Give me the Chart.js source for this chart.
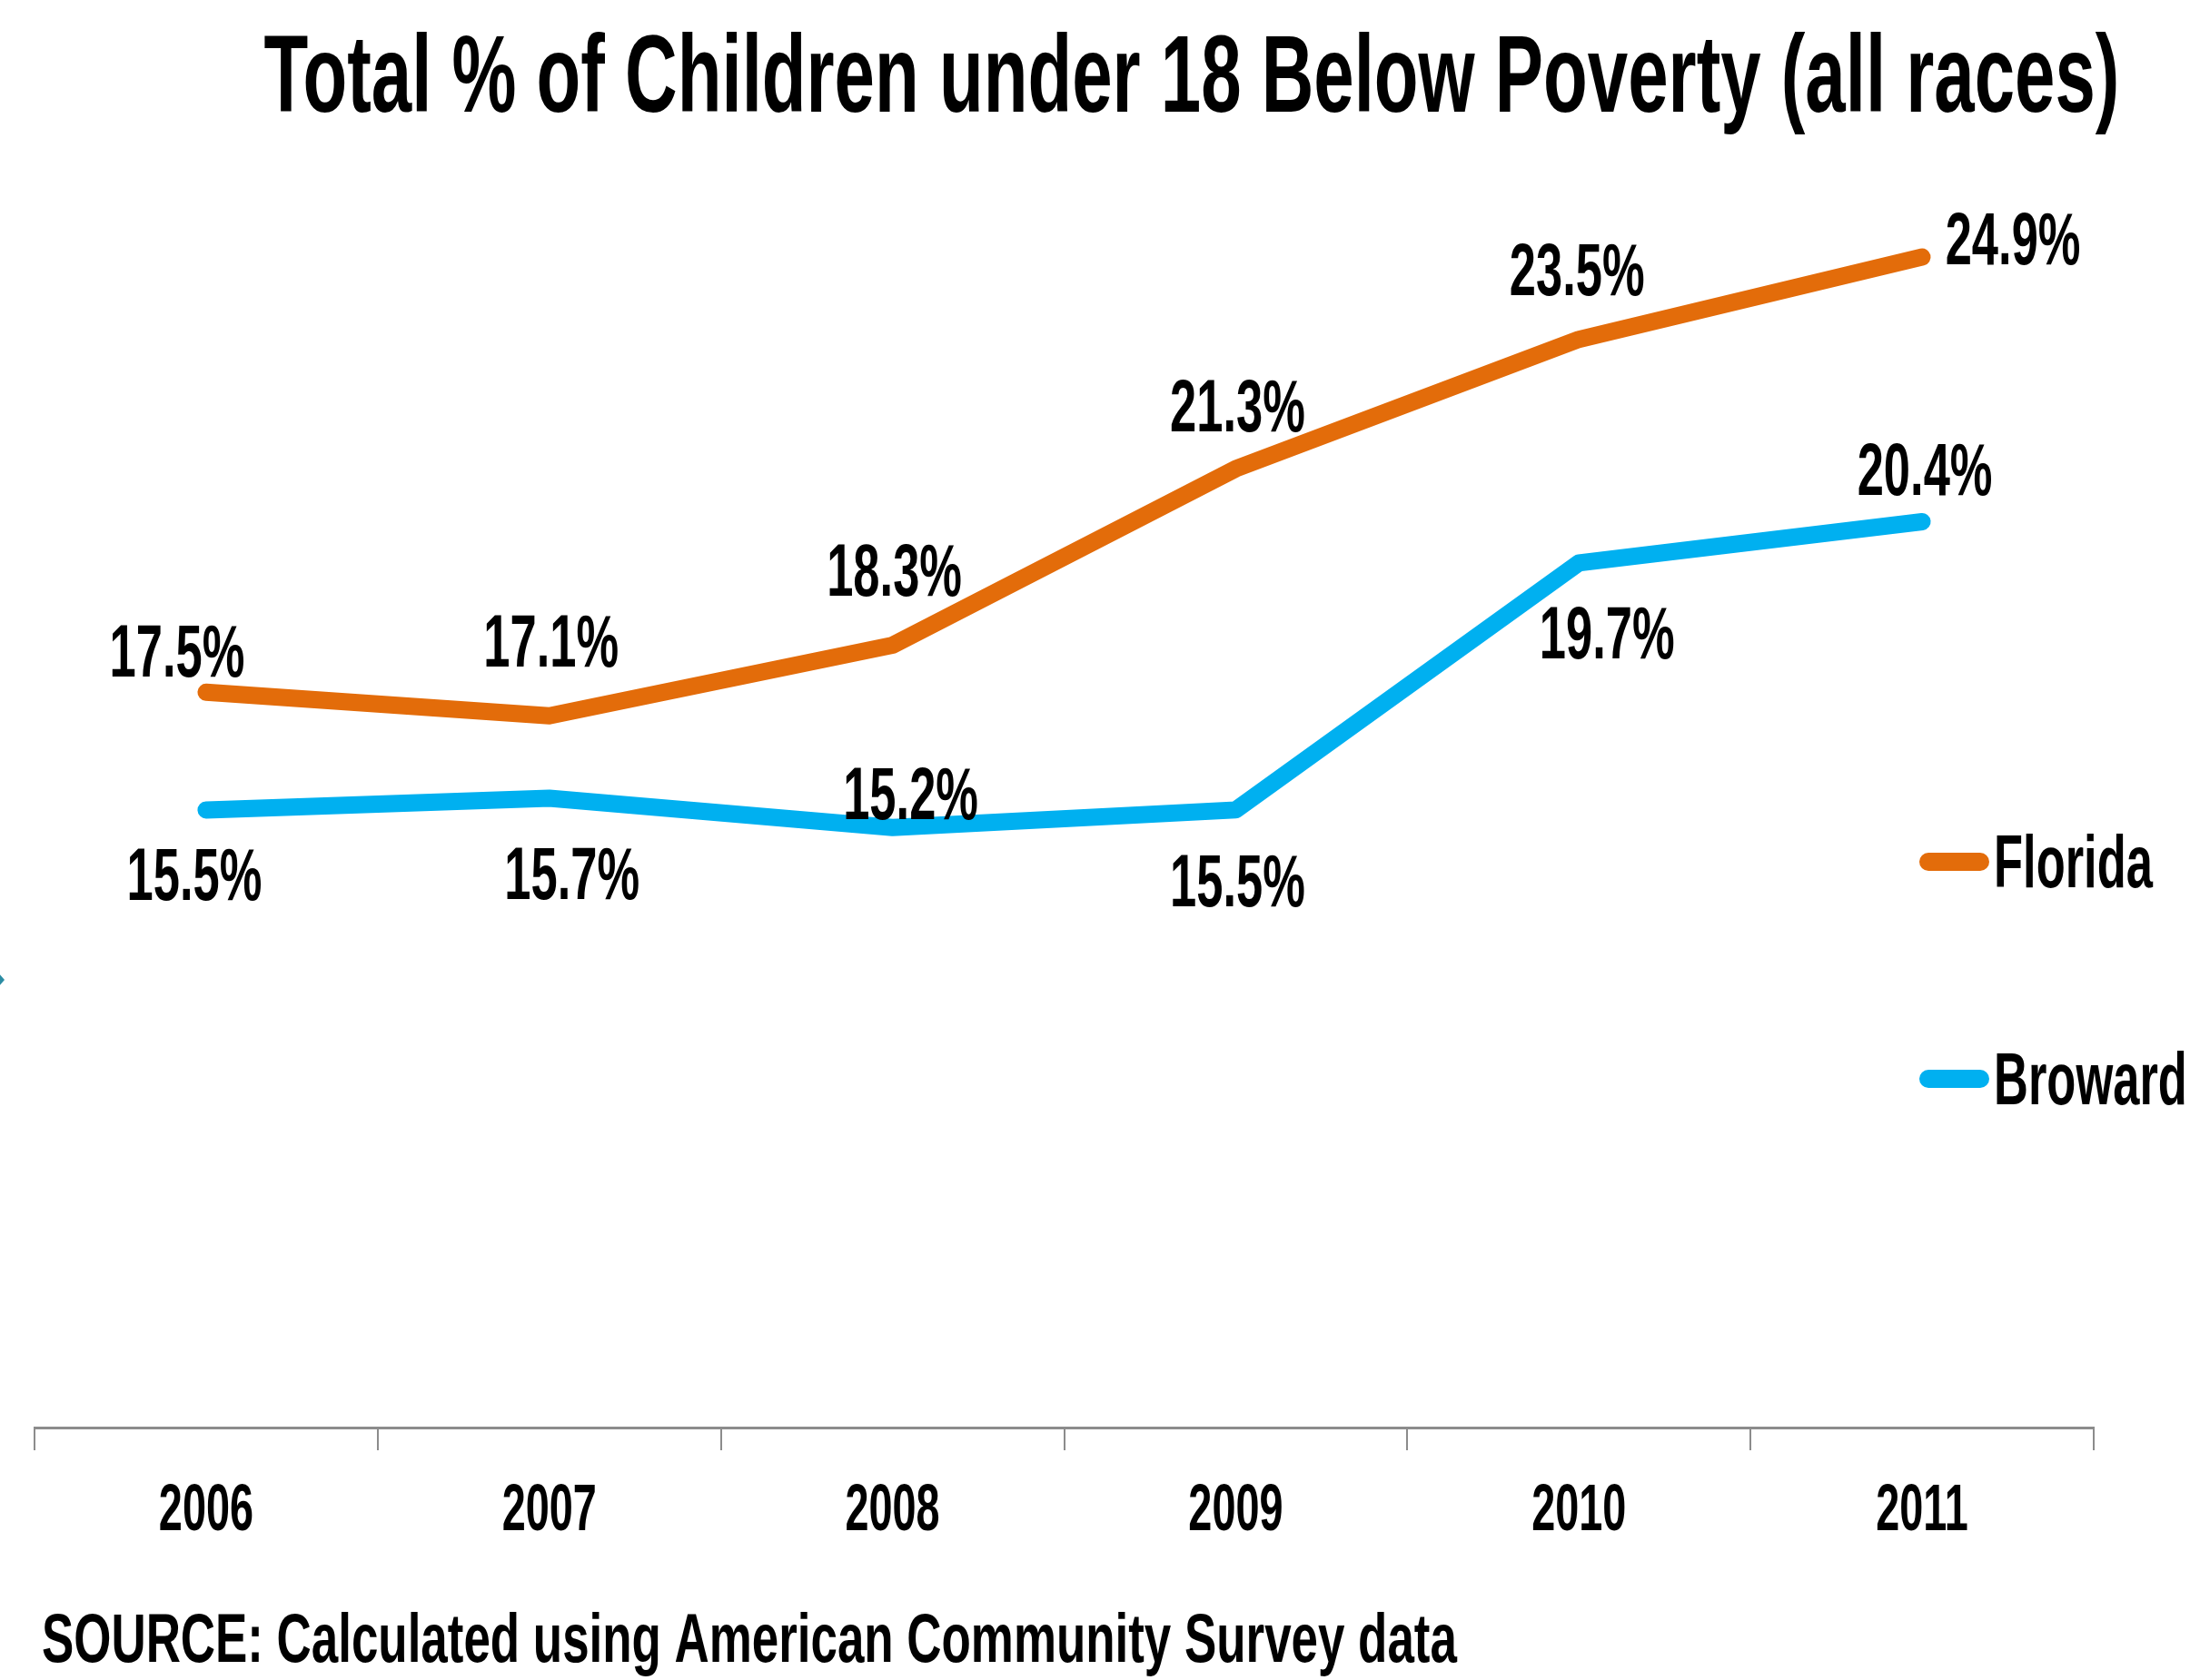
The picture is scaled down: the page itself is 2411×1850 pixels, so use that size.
<!DOCTYPE html>
<html>
<head>
<meta charset="utf-8">
<title>Total % of Children under 18 Below Poverty (all races)</title>
<script src="https://cdn.jsdelivr.net/npm/chart.js@4.4.1/dist/chart.umd.min.js"></script>
<style>
  html, body { margin: 0; padding: 0; background: #ffffff; }
  #wrap { width: 2411px; height: 1850px; position: relative; }
  canvas { display: block; }
</style>
</head>
<body>
<div id="wrap"><canvas id="chart" width="2411" height="1850"></canvas></div>
<script>
// ---- data ----
const years = ['2006', '2007', '2008', '2009', '2010', '2011'];
const florida = [17.5, 17.1, 18.3, 21.3, 23.5, 24.9];
const broward = [15.5, 15.7, 15.2, 15.5, 19.7, 20.4];
const seriesNames = ['Florida', 'Broward'];
const titleText = 'Total % of Children under 18 Below Poverty (all races)';
const sourceText = 'SOURCE: Calculated using American Community Survey data';

// ---- styling ----
const ORANGE = '#E36C0A';
const BLUE = '#00B0F0';
const FONT = '"Liberation Sans", Arial, sans-serif';
const CAP = 0.69; // cap height / font size

// label nudges (px, cap-centre relative to the point)
const labelNudge = [
  [[-32, -46], [2, -83], [2, -83], [2, -69], [-2, -77], [100, -20]],
  [[-13, 71], [25, 83], [20, -38], [2, 78], [31, 77], [3, -58]]
];

function drawText(ctx, text, x, y, size, sx, align) {
  ctx.save();
  ctx.font = 'bold ' + size + 'px ' + FONT;
  ctx.fillStyle = '#000000';
  ctx.textBaseline = 'alphabetic';
  ctx.textAlign = align;
  ctx.translate(x, y);
  ctx.scale(sx, 1);
  ctx.fillText(text, 0, 0);
  ctx.restore();
}

const decorations = {
  id: 'decorations',
  afterDraw(chart) {
    const ctx = chart.ctx;
    const xs = chart.scales.x;

    // title
    drawText(ctx, titleText, 1312, 123, 120, 0.665, 'center');

    // category labels under the axis
    years.forEach((y, i) => {
      drawText(ctx, y, xs.getPixelForTick(i), 1685, 72, 0.65, 'center');
    });

    // value labels
    chart.data.datasets.forEach((ds, di) => {
      const meta = chart.getDatasetMeta(di);
      meta.data.forEach((pt, i) => {
        const [dx, dy] = labelNudge[di][i];
        const size = 82;
        drawText(ctx, ds.data[i].toFixed(1) + '%', pt.x + dx, pt.y + dy + size * CAP / 2, size, 0.64, 'center');
      });
    });

    // legend
    const legendY = [949, 1188];
    chart.data.datasets.forEach((ds, di) => {
      ctx.save();
      ctx.strokeStyle = ds.borderColor;
      ctx.lineWidth = 20;
      ctx.lineCap = 'round';
      ctx.beginPath();
      ctx.moveTo(2123, legendY[di]);
      ctx.lineTo(2180, legendY[di]);
      ctx.stroke();
      ctx.restore();
      drawText(ctx, ds.label, 2195, legendY[di] + 82 * CAP / 2, 82, 0.64, 'left');
    });

    // source note
    drawText(ctx, sourceText, 46, 1830, 76, 0.696, 'left');

    // small slide marker at the left edge
    ctx.save();
    ctx.fillStyle = '#2B8CA3';
    ctx.beginPath();
    ctx.moveTo(-7, 1079);
    ctx.lineTo(-1, 1072);
    ctx.lineTo(5, 1079);
    ctx.lineTo(-1, 1086);
    ctx.closePath();
    ctx.fill();
    ctx.restore();
  }
};

new Chart(document.getElementById('chart'), {
  type: 'line',
  data: {
    labels: years,
    datasets: [
      { label: seriesNames[0], data: florida, borderColor: ORANGE, backgroundColor: ORANGE },
      { label: seriesNames[1], data: broward, borderColor: BLUE, backgroundColor: BLUE }
    ]
  },
  options: {
    responsive: false,
    animation: false,
    devicePixelRatio: 1,
    layout: { autoPadding: false, padding: { left: 38, right: 106, top: 147, bottom: 0 } },
    elements: {
      line: { borderWidth: 19, tension: 0, borderCapStyle: 'round', borderJoinStyle: 'round', fill: false },
      point: { radius: 0, hoverRadius: 0 }
    },
    plugins: {
      legend: { display: false },
      title: { display: false },
      tooltip: { enabled: false }
    },
    scales: {
      x: {
        type: 'category',
        offset: true,
        border: { display: true, color: '#8C8C8C', width: 3 },
        grid: { offset: true, drawOnChartArea: false, drawTicks: true, tickLength: 25, color: '#8C8C8C', lineWidth: 2 },
        ticks: { display: false },
        afterFit(scale) { scale.height = 278; }
      },
      y: { display: false, min: 5, max: 27 }
    }
  },
  plugins: [decorations]
});
</script>
</body>
</html>
